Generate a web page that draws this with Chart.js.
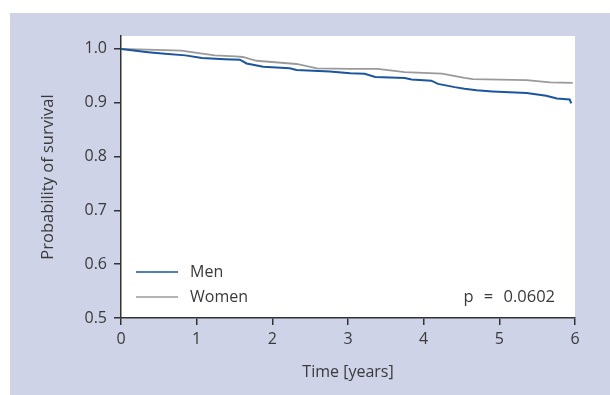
<!DOCTYPE html>
<html>
<script src="https://cdn.jsdelivr.net/npm/chart.js@4.4.0/dist/chart.umd.min.js"></script>
<style>
  body { margin: 0; background: #ffffff; }
  #panel { position: absolute; left: 10px; top: 13px; width: 600px; height: 382px; background: #ced3e7; }
</style>
<body>
<div id="panel">
<canvas id="myChart" width="600" height="382"></canvas>
</div>

<script>
// survival curves
var menTime = [0, 0.36, 0.58, 0.85, 1.07, 1.37, 1.57, 1.66, 1.88, 2.23, 2.32, 2.76, 3.03, 3.22, 3.36, 3.75, 3.84, 4.10, 4.19, 4.41, 4.54, 4.70, 4.91, 5.36, 5.62, 5.76, 5.93, 5.95];
var menSurv = [1.000, 0.994, 0.991, 0.988, 0.983, 0.981, 0.980, 0.973, 0.967, 0.964, 0.961, 0.958, 0.955, 0.954, 0.948, 0.946, 0.943, 0.941, 0.935, 0.929, 0.926, 0.923, 0.921, 0.918, 0.913, 0.908, 0.906, 0.899];

var womenTime = [0, 0.80, 0.98, 1.24, 1.51, 1.61, 1.79, 2.32, 2.59, 3.03, 3.39, 3.75, 4.24, 4.54, 4.65, 5.36, 5.67, 5.97];
var womenSurv = [1.000, 0.997, 0.993, 0.988, 0.986, 0.985, 0.978, 0.972, 0.964, 0.963, 0.963, 0.957, 0.954, 0.946, 0.944, 0.942, 0.938, 0.937];

var yTicks = [0.5, 0.6, 0.7, 0.8, 0.9, 1.0];
var pText = "p = 0.0602";

function toPoints(xs, ys) {
  var pts = [];
  for (let i = 0; i < xs.length; i++) {
    pts.push({x: xs[i], y: ys[i]});
  }
  return pts;
}

var textColor = "#3a3a3a";
var axisColor = "#333333";
var fontFam = "'Open Sans', sans-serif";

// white plot area, legend and p value inside the plot
var plotDecor = {
  id: "plotDecor",
  beforeDraw: function (chart) {
    var a = chart.chartArea;
    var ctx = chart.ctx;
    ctx.save();
    ctx.fillStyle = "#ffffff";
    ctx.fillRect(a.left, a.top, a.right - a.left, a.bottom - a.top);
    ctx.restore();
  },
  afterDatasetsDraw: function (chart) {
    var a = chart.chartArea;
    var ctx = chart.ctx;
    ctx.save();
    ctx.font = "16px " + fontFam;
    ctx.textBaseline = "middle";
    var rows = [a.bottom - 46, a.bottom - 21];
    chart.data.datasets.forEach(function (ds, i) {
      var y = rows[i];
      ctx.strokeStyle = ds.borderColor;
      ctx.lineWidth = 1.5;
      ctx.beginPath();
      ctx.moveTo(a.left + 15, y);
      ctx.lineTo(a.left + 57, y);
      ctx.stroke();
      ctx.fillStyle = textColor;
      ctx.textAlign = "left";
      ctx.fillText(ds.label, a.left + 69, y);
    });
    ctx.textAlign = "right";
    ctx.font = "16.5px " + fontFam;
    ctx.wordSpacing = "6px";
    ctx.fillText(pText, a.right - 20, a.bottom - 21);
    ctx.restore();
  }
};

new Chart("myChart", {
  type: "line",
  data: {
    datasets: [{
      label: "Men",
      data: toPoints(menTime, menSurv),
      borderColor: "#1b559e",
      borderWidth: 2,
      pointRadius: 0,
      tension: 0,
      fill: false
    }, {
      label: "Women",
      data: toPoints(womenTime, womenSurv),
      borderColor: "#9a9a9a",
      borderWidth: 1.8,
      pointRadius: 0,
      tension: 0,
      fill: false
    }]
  },
  options: {
    responsive: false,
    animation: false,
    layout: {padding: {top: 23, right: 35, left: 0, bottom: 0}},
    plugins: {
      legend: {display: false},
      tooltip: {enabled: false}
    },
    scales: {
      x: {
        type: "linear",
        min: 0,
        max: 6,
        afterFit: function (s) { s.height = 77; },
        ticks: {stepSize: 1, color: textColor, padding: 5, font: {size: 16, family: fontFam}},
        grid: {drawOnChartArea: false, color: axisColor, tickLength: 7, lineWidth: 1.5},
        border: {color: axisColor, width: 1.5},
        title: {display: true, text: "Time [years]", color: textColor, font: {size: 16, family: fontFam}, padding: {top: 0, bottom: 13}}
      },
      y: {
        type: "linear",
        min: 0.5,
        max: 1.024,
        afterFit: function (s) { s.width = 111; },
        afterBuildTicks: function (s) {
          s.ticks = yTicks.map(function (v) { return {value: v}; });
        },
        ticks: {
          color: textColor, padding: 7, font: {size: 16, family: fontFam},
          callback: function (v) { return Number(v).toFixed(1); }
        },
        grid: {drawOnChartArea: false, color: axisColor, tickLength: 7, lineWidth: 1.5},
        border: {color: axisColor, width: 1.5},
        title: {display: true, text: "Probability of survival", color: textColor, font: {size: 16.5, family: fontFam}, padding: {top: 28, bottom: 0}}
      }
    }
  },
  plugins: [plotDecor]
});
</script>
</body>
</html>
